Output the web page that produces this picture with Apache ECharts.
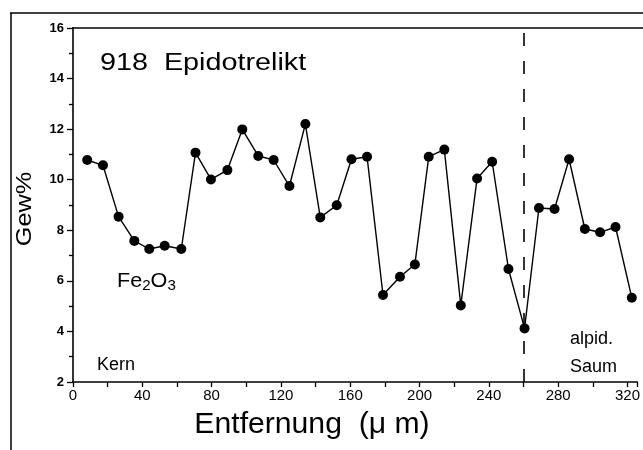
<!DOCTYPE html>
<html><head><meta charset="utf-8">
<script src="https://cdn.jsdelivr.net/npm/echarts@6/dist/echarts.min.js"></script>
<style>html,body{margin:0;padding:0;background:#fff}#c{width:643px;height:450px}</style>
</head><body><div id="c"></div>
<script>
// distance (µm)
const distance = [8.2,17.3,26.3,35.4,44.0,52.9,62.5,70.7,79.6,89.1,97.7,106.9,115.8,124.9,134.1,142.7,152.2,160.7,169.7,178.9,188.7,197.3,205.3,214.3,223.8,233.2,241.9,251.3,260.6,268.9,277.9,286.3,295.4,304.2,313.1,322.5];
// Fe2O3 (Gew%)
const fe2o3 = [10.78,10.57,8.54,7.58,7.26,7.39,7.26,11.07,10.01,10.38,11.99,10.94,10.78,9.75,12.2,8.51,8.99,10.81,10.91,5.44,6.16,6.65,10.91,11.19,5.03,10.05,10.71,6.47,4.12,8.88,8.84,10.81,8.05,7.92,8.13,5.33];
const boundary = 260;
const yTicks = [2,4,6,8,10,12,14,16];
const xTicks = [0,40,80,120,160,200,240,280,320];

const FONT = "'Liberation Sans', Arial, sans-serif";
const chart = echarts.init(document.getElementById('c'), null, {renderer:'canvas'});
chart.setOption({
  animation:false,
  backgroundColor:'#fff',
  grid:{left:73, top:28, bottom:68, right:0, show:false},
  xAxis:{type:'value', min:0, max:325.7, interval:40,
    axisLine:{lineStyle:{color:'#000', width:1.6}},
    axisTick:{show:true, length:5, lineStyle:{color:'#000', width:1.3}},
    minorTick:{show:true, splitNumber:2, length:5, lineStyle:{color:'#000', width:1.3}},
    splitLine:{show:false},
    axisLabel:{color:'#000', fontSize:15, fontFamily:FONT, margin:6, showMaxLabel:false,
      formatter:v=>xTicks.includes(v)?String(v):''}
  },
  yAxis:{type:'value', min:2, max:16, interval:2,
    axisLine:{show:true, lineStyle:{color:'#000', width:1.6}},
    axisTick:{show:true, length:6, lineStyle:{color:'#000', width:1.3}},
    minorTick:{show:true, splitNumber:2, length:4, lineStyle:{color:'#000', width:1.3}},
    splitLine:{show:false},
    axisLabel:{color:'#000', fontSize:13, fontWeight:'bold', fontFamily:FONT, margin:9,
      formatter:v=>yTicks.includes(v)?String(v):''}
  },
  series:[{
    type:'line', data:distance.map((d,i)=>[d,fe2o3[i]]),
    symbol:'circle', symbolSize:10, showSymbol:true,
    lineStyle:{color:'#000', width:1.4},
    itemStyle:{color:'#000'},
    markLine:{silent:true, symbol:'none', label:{show:false},
      lineStyle:{color:'#000', width:1.6, type:[13,15]},
      data:[{xAxis:boundary}]}
  }],
  graphic:[
    {type:'line', shape:{x1:10,y1:13,x2:660,y2:13}, style:{stroke:'#000', lineWidth:1.5}},
    {type:'line', shape:{x1:11,y1:13,x2:11,y2:460}, style:{stroke:'#000', lineWidth:1.5}},
    {type:'line', shape:{x1:72,y1:28,x2:660,y2:28}, style:{stroke:'#000', lineWidth:1.5}},
    {type:'text', x:100, y:64, scaleX:1.25, style:{text:'918  Epidotrelikt', font:'23px '+FONT, fill:'#000', textVerticalAlign:'middle'}},
    {type:'text', x:117, y:281, scaleX:1.08, style:{text:'{n|Fe}{s|2}{n|O}{s|3}', fill:'#000', textVerticalAlign:'middle',
      rich:{n:{font:'20px '+FONT, fill:'#000'}, s:{font:'14px '+FONT, fill:'#000', padding:[10,0,0,0]}}}},
    {type:'text', x:97, y:365, style:{text:'Kern', font:'18px '+FONT, fill:'#000', textVerticalAlign:'middle'}},
    {type:'text', x:570, y:339, style:{text:'alpid.', font:'18px '+FONT, fill:'#000', textVerticalAlign:'middle'}},
    {type:'text', x:570, y:367, style:{text:'Saum', font:'18px '+FONT, fill:'#000', textVerticalAlign:'middle'}},
    {type:'text', x:312, y:425, scaleX:1.04, style:{text:'Entfernung  (μ m)', font:'29px '+FONT, fill:'#000', textAlign:'center', textVerticalAlign:'middle'}},
    {type:'text', x:25, y:209, rotation:Math.PI/2, scaleX:1.15, style:{text:'Gew%', font:'22px '+FONT, fill:'#000', textAlign:'center', textVerticalAlign:'middle'}}
  ]
});
</script></body></html>
